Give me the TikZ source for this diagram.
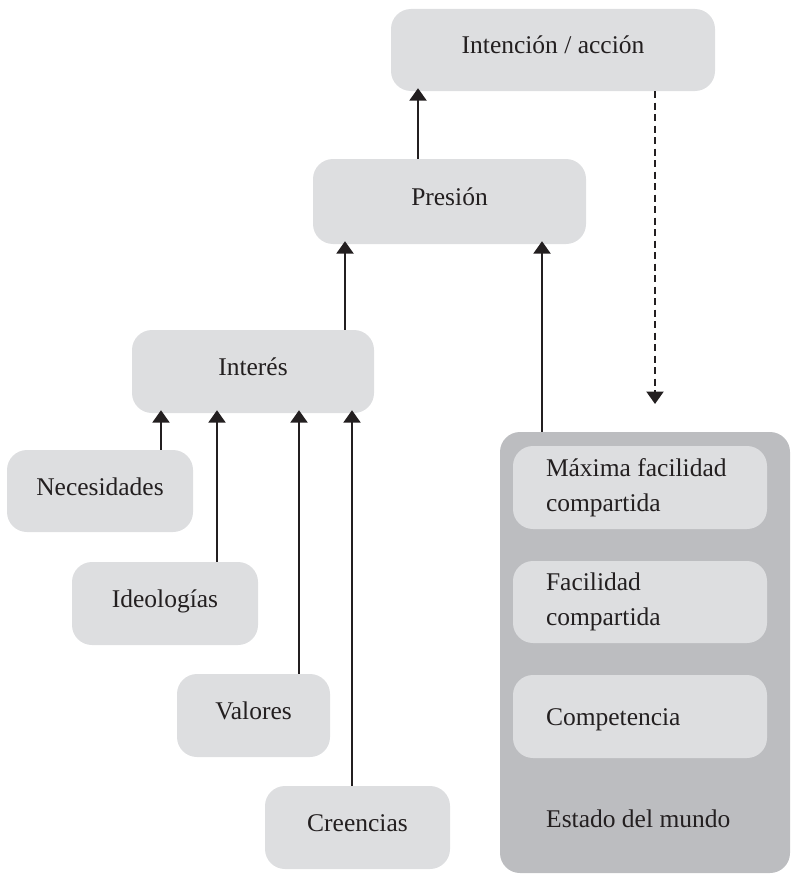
\documentclass[tikz,border=0pt]{standalone}
\usepackage{fontspec}
\setmainfont{Liberation Serif}
\usetikzlibrary{arrows.meta}
\definecolor{boxgray}{HTML}{DDDEE0}
\definecolor{contgray}{HTML}{BCBDC0}
\definecolor{ink}{HTML}{231F20}
\begin{document}
\begin{tikzpicture}[x=1pt,y=-1pt,
  txt/.style={font=\fontsize{25.5}{35}\selectfont, text=ink},
  gbox/.style={txt, fill=boxgray, rounded corners=20pt, inner sep=0pt,
    text height=18pt, text depth=10pt, align=center},
  ibox/.style={txt, fill=boxgray, rounded corners=20pt, inner ysep=0pt,
    inner xsep=33pt, text width=188pt, align=flush left, minimum height=83pt},
  arr/.style={draw=ink, line width=2.4pt, -{Triangle[width=17pt,length=12.5pt]}, shorten >=-3pt},
  darr/.style={arr, dash pattern=on 7pt off 4.5pt, shorten >=0pt}
]
\useasboundingbox (0,0) rectangle (790,875);

\node[gbox, minimum width=324pt, minimum height=82pt] (intencion) at (553,50) {Intención / acción};
\node[gbox, minimum width=273pt, minimum height=85pt] (presion) at (449.5,201.5) {Presión};
\node[gbox, minimum width=242pt, minimum height=83pt] (interes) at (253,371.5) {Interés};
\node[gbox, minimum width=186pt, minimum height=82pt] (necesidades) at (100,491) {Necesidades};
\node[gbox, minimum width=186pt, minimum height=83pt] (ideologias) at (165,603.5) {Ideologías};
\node[gbox, minimum width=153pt, minimum height=83pt] (valores) at (253.5,715.5) {Valores};
\node[gbox, minimum width=185pt, minimum height=83pt] (creencias) at (357.5,827.5) {Creencias};

\node[fill=contgray, rounded corners=20pt, minimum width=290pt, minimum height=441pt, inner sep=0pt] (mundo) at (645,652.5) {};
\node[ibox] (maxima) at (640,487.5) {Máxima facilidad\\compartida};
\node[ibox, minimum height=82pt] (facilidad) at (640,602) {Facilidad\\compartida};
\node[ibox, text height=18pt, text depth=1pt] (competencia) at (640,716.5) {Competencia};
\node[txt, anchor=base west, inner sep=0pt] (estado) at (546,827) {Estado del mundo};

\coordinate (xPI) at (418,0);
\coordinate (xIP) at (345,0);
\coordinate (xMP) at (542,0);
\coordinate (xD) at (655,0);
\coordinate (dend) at (655,404);
\coordinate (xN) at (161,0);
\coordinate (xId) at (217,0);
\coordinate (xV) at (299,0);
\coordinate (xC) at (352,0);

\draw[arr] (presion.north -| xPI) -- (intencion.south -| xPI);
\draw[arr] (interes.north -| xIP) -- (presion.south -| xIP);
\draw[arr] (mundo.north -| xMP) -- (presion.south -| xMP);
\draw[darr] (intencion.south -| xD) -- (dend);
\draw[arr] (necesidades.north -| xN) -- (interes.south -| xN);
\draw[arr] (ideologias.north -| xId) -- (interes.south -| xId);
\draw[arr] (valores.north -| xV) -- (interes.south -| xV);
\draw[arr] (creencias.north -| xC) -- (interes.south -| xC);
\end{tikzpicture}
\end{document}
